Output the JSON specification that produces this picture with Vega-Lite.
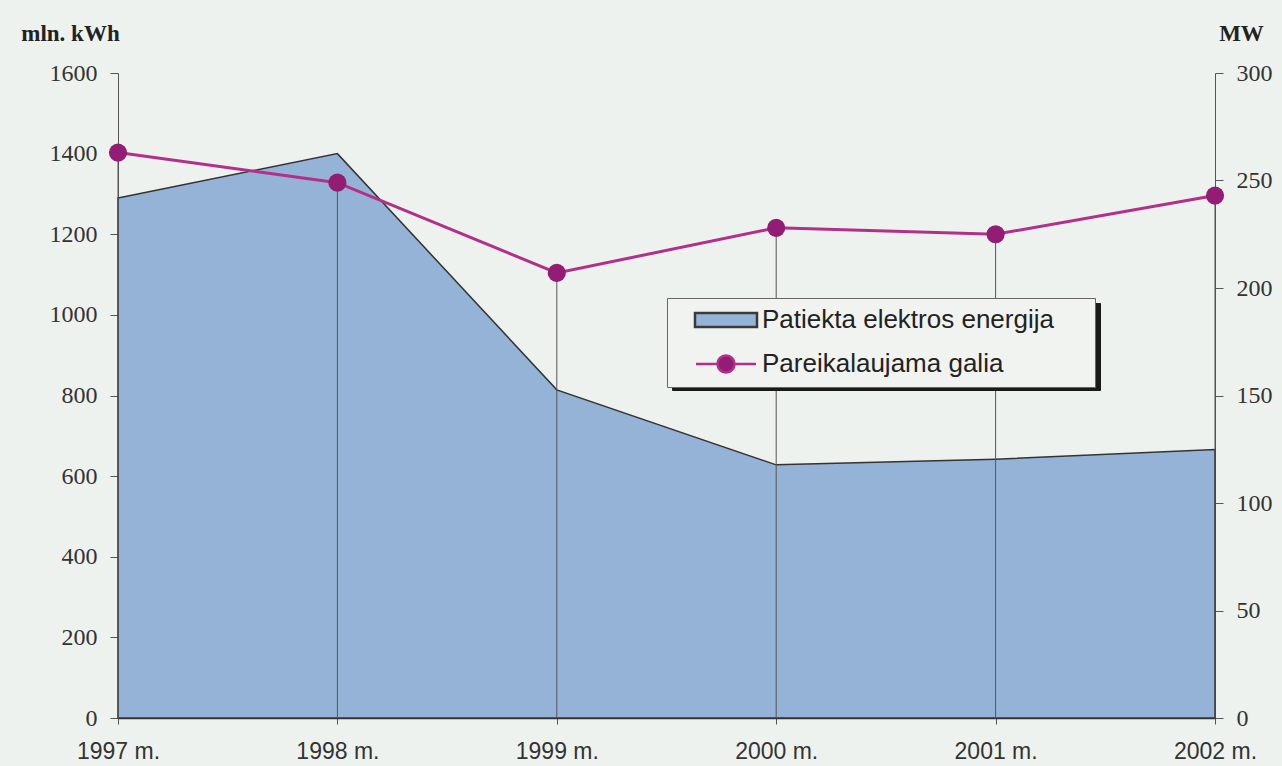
{
  "$schema": "https://vega.github.io/schema/vega-lite/v6.json",
  "width": 1097,
  "height": 645,
  "autosize": {"type": "none"},
  "padding": {"left": 118, "top": 73, "right": 67, "bottom": 48},
  "background": "#eef2ef",
  "config": {"view": {"stroke": null}, "axis": {"grid": false}},
  "data": {
    "values": [
      {"year": "1997 m.", "energy": 1290, "power": 263},
      {"year": "1998 m.", "energy": 1400, "power": 249},
      {"year": "1999 m.", "energy": 814, "power": 207},
      {"year": "2000 m.", "energy": 628, "power": 228},
      {"year": "2001 m.", "energy": 642, "power": 225},
      {"year": "2002 m.", "energy": 666, "power": 243}
    ]
  },
  "layer": [
    {
      "mark": {"type": "area", "stroke": "#333333", "strokeWidth": 1.5},
      "encoding": {
        "x": {
          "field": "year", "type": "ordinal", "sort": null,
          "scale": {"type": "point", "padding": 0},
          "axis": {
            "title": null, "labelAngle": 0, "labelFont": "Liberation Sans", "labelFontSize": 23,
            "labelColor": "#333333", "labelPadding": 16, "tickSize": 6, "tickColor": "#555555",
            "domainColor": "#333333", "domainWidth": 1.5, "labelFlush": false
          }
        },
        "y": {
          "field": "energy", "type": "quantitative",
          "scale": {"domain": [0, 1600], "nice": false},
          "axis": {
            "orient": "left", "values": [0, 200, 400, 600, 800, 1000, 1200, 1400, 1600], "format": "d",
            "tickSize": 8, "tickColor": "#555555", "domainColor": "#555555",
            "labelFont": "Liberation Serif", "labelFontSize": 24, "labelColor": "#333333", "labelPadding": 13,
            "title": "mln. kWh", "titleFont": "Liberation Serif", "titleFontWeight": "bold", "titleFontSize": 23,
            "titleColor": "#222222", "titleAngle": 0, "titleX": -48, "titleY": -40,
            "titleAlign": "center", "titleBaseline": "middle"
          }
        },
        "color": {
          "datum": "Patiekta elektros energija",
          "scale": {"domain": ["Pareikalaujama galia", "Patiekta elektros energija"], "range": ["#b32f8a", "#94b3d6"]},
          "legend": {
            "orient": "none", "legendX": 554, "legendY": 230, "direction": "vertical",
            "title": "\u00a0", "titleOrient": "right", "titlePadding": 324, "titleFontSize": 10,
            "fillColor": "#1a1a1a", "strokeColor": "#1a1a1a", "padding": 9,
            "labelFont": "Liberation Sans", "labelFontSize": 26, "labelOpacity": 0, "labelLimit": 600,
            "labelExpr": "''",
            "symbolSize": 400, "symbolOffset": 37, "labelOffset": 23, "rowPadding": 17, "zindex": 1,
            "symbolOpacity": 0
          }
        },
        "opacity": {
          "datum": "Patiekta elektros energija",
          "scale": {"type": "point", "domain": ["Patiekta elektros energija", "Pareikalaujama galia"], "range": [1, 1]},
          "legend": {
            "orient": "none", "legendX": 549, "legendY": 225, "direction": "vertical",
            "title": "\u00a0", "titleOrient": "right", "titlePadding": 32, "titleFontSize": 10,
            "fillColor": "#f0f3f0", "strokeColor": "#666666", "padding": 9,
            "labelFont": "Liberation Sans", "labelFontSize": 26, "labelColor": "#222222", "labelLimit": 600,
            "symbolSize": 400, "symbolOffset": 37, "labelOffset": 23, "rowPadding": 17, "zindex": 2,
            "encoding": {
              "symbols": {
                "shape": {"value": {"expr": "datum.value === 'Patiekta elektros energija' ? 'M-3.1,-0.7H3.1V0.7H-3.1Z' : 'M-3,0H-0.85M0.85,0H3M-0.85,0A0.85,0.85,0,1,0,0.85,0A0.85,0.85,0,1,0,-0.85,0Z'"}},
                "fill": {"value": {"expr": "datum.value === 'Patiekta elektros energija' ? '#94b3d6' : '#931d75'"}},
                "stroke": {"value": {"expr": "datum.value === 'Patiekta elektros energija' ? '#3a3a3a' : '#b32f8a'"}},
                "strokeWidth": {"value": 2.5},
                "opacity": {"value": 1}
              }
            }
          }
        }
      }
    },
    {
      "layer": [
        {
          "mark": {"type": "rule", "color": "#555555", "strokeWidth": 1},
          "encoding": {
            "x": {"field": "year", "type": "ordinal", "sort": null},
            "y": {
              "field": "power", "type": "quantitative",
              "scale": {"domain": [0, 300], "nice": false},
              "axis": {
                "orient": "right", "values": [0, 50, 100, 150, 200, 250, 300],
                "tickSize": 8, "tickColor": "#555555", "domainColor": "#555555",
                "labelFont": "Liberation Serif", "labelFontSize": 24, "labelColor": "#333333", "labelPadding": 13,
                "title": "MW", "titleFont": "Liberation Serif", "titleFontWeight": "bold", "titleFontSize": 23,
                "titleColor": "#222222", "titleAngle": 0, "titleX": 26, "titleY": -40,
                "titleAlign": "center", "titleBaseline": "middle"
              }
            },
            "y2": {"datum": 0}
          }
        },
        {
          "mark": {"type": "line", "strokeWidth": 3},
          "encoding": {
            "x": {"field": "year", "type": "ordinal", "sort": null},
            "y": {"field": "power", "type": "quantitative"},
            "color": {"datum": "Pareikalaujama galia"},
            "opacity": {"datum": "Pareikalaujama galia"}
          }
        },
        {
          "mark": {"type": "point", "filled": true, "size": 330, "color": "#931d75", "opacity": 1},
          "encoding": {
            "x": {"field": "year", "type": "ordinal", "sort": null},
            "y": {"field": "power", "type": "quantitative"}
          }
        }
      ]
    }
  ],
  "resolve": {"scale": {"y": "independent"}}
}
